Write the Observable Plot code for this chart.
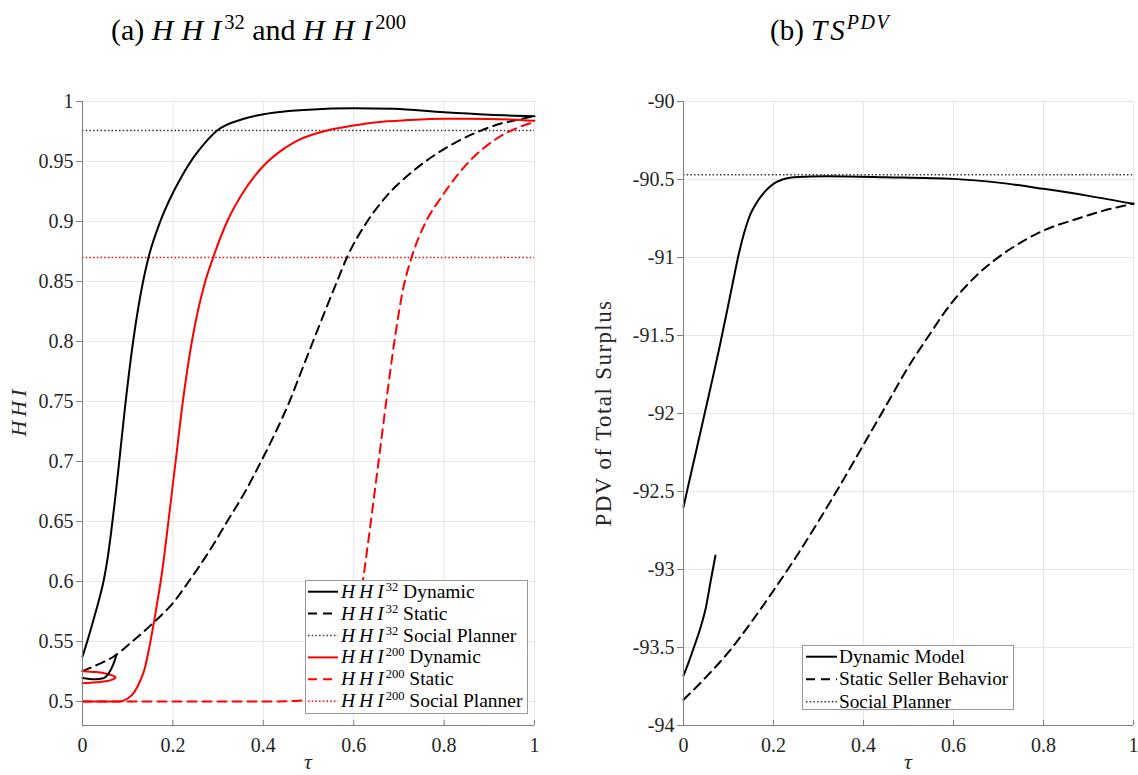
<!DOCTYPE html>
<html>
<head>
<meta charset="utf-8">
<script src="https://cdn.jsdelivr.net/npm/d3@7"></script>
<script src="https://cdn.jsdelivr.net/npm/@observablehq/plot@0.6"></script>
<style>
  html, body { margin: 0; padding: 0; background: #fff; }
  #wrap { position: relative; width: 1138px; height: 775px; overflow: hidden; font-family: "Liberation Serif", serif; }
  .panel { position: absolute; top: 0; height: 775px; }
  .panel svg { display: block; max-width: none; }
  svg text, svg tspan { font-family: "Liberation Serif", serif !important; }
</style>
</head>
<body>
<div id="wrap">
  <div class="panel" id="left" style="left:0px;width:600px"></div>
  <div class="panel" id="right" style="left:600px;width:538px"></div>
  <svg id="overlay" width="1138" height="775" style="position:absolute;left:0;top:0;pointer-events:none;font-family:'Liberation Serif',serif"></svg>
</div>
<script>
// ---------- tick values ----------
const xTicks = [0, 0.2, 0.4, 0.6, 0.8, 1];
const hhiTicks = [0.5, 0.55, 0.6, 0.65, 0.7, 0.75, 0.8, 0.85, 0.9, 0.95, 1];
const tsTicks = [-94, -93.5, -93, -92.5, -92, -91.5, -91, -90.5, -90];
const hhiDomain = [0.48, 1];
const tsDomain = [-94, -90];

// ---------- panel (a): HHI ----------
const hhi32DynTau = [0, 0.012, 0.025, 0.036, 0.047, 0.055, 0.063, 0.071, 0.079, 0.094, 0.112, 0.134, 0.146, 0.172, 0.195, 0.22, 0.246, 0.272, 0.298, 0.357, 0.431, 0.5, 0.6, 0.688, 0.8, 0.9, 1];
const hhi32DynVal = [0.5375, 0.552, 0.569, 0.584, 0.601, 0.618, 0.64, 0.665, 0.692, 0.745, 0.8, 0.85, 0.87, 0.9, 0.92, 0.938, 0.9536, 0.966, 0.9758, 0.9856, 0.9911, 0.9932, 0.9944, 0.994, 0.991, 0.989, 0.9878];

const hhi32DynBranchTau = [0, 0.012, 0.025, 0.037, 0.047, 0.055, 0.062, 0.068, 0.072, 0.075];
const hhi32DynBranchVal = [0.5195, 0.519, 0.5185, 0.5188, 0.5195, 0.522, 0.526, 0.531, 0.535, 0.539];

const hhi32StaticTau = [0, 0.035, 0.069, 0.11, 0.158, 0.2, 0.235, 0.28, 0.32, 0.36, 0.395, 0.428, 0.458, 0.484, 0.51, 0.563, 0.585, 0.63, 0.674, 0.733, 0.807, 0.873, 0.92, 0.962, 1];
const hhi32StaticVal = [0.5253, 0.531, 0.5375, 0.55, 0.566, 0.582, 0.6, 0.625, 0.65, 0.675, 0.7, 0.725, 0.75, 0.775, 0.8, 0.85, 0.87, 0.9, 0.9217, 0.9425, 0.962, 0.9744, 0.981, 0.9847, 0.9878];

const hhi32Planner = 0.9758;

const hhi200DynTau = [0, 0.04, 0.08, 0.1, 0.115, 0.128, 0.138, 0.145, 0.158, 0.166, 0.173, 0.182, 0.19, 0.206, 0.222, 0.242, 0.255, 0.27, 0.29, 0.32, 0.35, 0.397, 0.432, 0.468, 0.541, 0.6, 0.652, 0.72, 0.8, 0.9, 1];
const hhi200DynVal = [0.5, 0.5, 0.5, 0.5025, 0.508, 0.5175, 0.528, 0.54, 0.566, 0.584, 0.6, 0.625, 0.65, 0.7, 0.75, 0.8, 0.825, 0.848, 0.871, 0.9, 0.921, 0.945, 0.957, 0.966, 0.9758, 0.98, 0.9828, 0.9845, 0.9856, 0.9855, 0.984];

const hhi200DynLoopTau = [0, 0.03, 0.055, 0.066, 0.071, 0.073, 0.071, 0.066, 0.055, 0.03, 0];
const hhi200DynLoopVal = [0.5253, 0.5245, 0.523, 0.5218, 0.5208, 0.52, 0.5192, 0.5182, 0.517, 0.516, 0.5153];

const hhi200StaticTau = [0, 0.1, 0.2, 0.3, 0.4, 0.47, 0.52, 0.55, 0.575, 0.597, 0.62, 0.638, 0.655, 0.672, 0.69, 0.71, 0.728, 0.76, 0.7925, 0.858, 0.91, 0.962, 1];
const hhi200StaticVal = [0.5, 0.5, 0.5, 0.5, 0.5, 0.5005, 0.503, 0.51, 0.525, 0.55, 0.6, 0.65, 0.7, 0.75, 0.8, 0.845, 0.87, 0.9, 0.9195, 0.951, 0.9675, 0.978, 0.983];

const hhi200Planner = 0.87;

// ---------- panel (b): PDV of total surplus ----------
const tsDynTau = [0, 0.01, 0.025, 0.04, 0.06, 0.08, 0.097, 0.11, 0.123, 0.136, 0.149, 0.16, 0.171, 0.185, 0.2, 0.22, 0.245, 0.319, 0.45, 0.6, 0.7, 0.8, 0.9, 1];
const tsDynVal = [-92.6, -92.47, -92.28, -92.09, -91.835, -91.575, -91.34, -91.155, -90.976, -90.83, -90.72, -90.66, -90.613, -90.565, -90.528, -90.5, -90.485, -90.479, -90.485, -90.496, -90.52, -90.56, -90.605, -90.656];

const tsDynBranchTau = [0, 0.012, 0.023, 0.038, 0.05, 0.06, 0.071];
const tsDynBranchVal = [-93.68, -93.59, -93.5, -93.37, -93.24, -93.08, -92.91];

const tsStaticTau = [0, 0.05, 0.1, 0.15, 0.2, 0.25, 0.3, 0.35, 0.4, 0.45, 0.5, 0.55, 0.578, 0.615, 0.653, 0.69, 0.727, 0.8, 0.875, 0.949, 1];
const tsStaticVal = [-93.835, -93.69, -93.53, -93.34, -93.135, -92.92, -92.69, -92.45, -92.2, -91.95, -91.7, -91.48, -91.36, -91.225, -91.11, -91.02, -90.944, -90.827, -90.752, -90.688, -90.656];

const tsPlanner = -90.47;

// ---------- helpers ----------
const rows = (ts, vs) => ts.map((t, i) => ({tau: t, v: vs[i]}));
const fmt = d => String(Math.round(d * 100) / 100);
const BLACK = "#000000", RED = "#ff0000", AXIS = "#808080", GRID = "#e6e6e6", DOT = "#333333";
const DASH = "9,6", DOTS = "1.5,2.2";
const FONT = "'Liberation Serif', serif";

function frame(yTicks) {
  return [
    Plot.gridX(xTicks, {stroke: GRID, strokeOpacity: 1}),
    Plot.gridY(yTicks, {stroke: GRID, strokeOpacity: 1}),
  ];
}
function axes(yTicks, yDomain) {
  return [
    Plot.ruleX([0], {stroke: AXIS, strokeWidth: 1}),
    Plot.ruleY([yDomain[0]], {stroke: AXIS, strokeWidth: 1}),
    Plot.ruleX(xTicks, {y1: yDomain[0], y2: yDomain[0], insetTop: -5, stroke: AXIS}),
    Plot.axisY(yTicks, {tickSize: 6, tickPadding: 3, tickFormat: fmt, stroke: AXIS, fill: "#262626", fontSize: 20, fontFamily: FONT, label: null}),
    Plot.axisX(xTicks, {tickSize: 0, tickPadding: 12, tickFormat: fmt, fill: "#262626", fontSize: 20, fontFamily: FONT, label: null})
  ];
}
const smooth = "monotone-x";
const style = {fontFamily: FONT, background: "transparent", overflow: "visible", maxWidth: "none"};

const left = Plot.plot({
  width: 600, height: 775,
  marginLeft: 82, marginRight: 66, marginTop: 101, marginBottom: 50,
  style,
  x: {domain: [0, 1]},
  y: {domain: hhiDomain},
  marks: [
    ...frame(hhiTicks),
    Plot.ruleY([hhi32Planner], {stroke: DOT, strokeWidth: 1.6, strokeDasharray: DOTS}),
    Plot.ruleY([hhi200Planner], {stroke: RED, strokeWidth: 1.6, strokeDasharray: DOTS}),
    Plot.line(rows(hhi32StaticTau, hhi32StaticVal), {x: "tau", y: "v", stroke: BLACK, strokeWidth: 2, strokeDasharray: DASH, curve: smooth}),
    Plot.line(rows(hhi200StaticTau, hhi200StaticVal), {x: "tau", y: "v", stroke: RED, strokeWidth: 2, strokeDasharray: DASH, curve: smooth}),
    Plot.line(rows(hhi200DynTau, hhi200DynVal), {x: "tau", y: "v", stroke: RED, strokeWidth: 2, curve: smooth}),
    Plot.line(rows(hhi200DynLoopTau, hhi200DynLoopVal), {x: "tau", y: "v", stroke: RED, strokeWidth: 2, curve: "catmull-rom"}),
    Plot.line(rows(hhi32DynTau, hhi32DynVal), {x: "tau", y: "v", stroke: BLACK, strokeWidth: 2, curve: smooth}),
    Plot.line(rows(hhi32DynBranchTau, hhi32DynBranchVal), {x: "tau", y: "v", stroke: BLACK, strokeWidth: 2, curve: smooth}),
    ...axes(hhiTicks, hhiDomain)
  ]
});
document.getElementById("left").appendChild(left);

const right = Plot.plot({
  width: 538, height: 775,
  marginLeft: 83, marginRight: 5, marginTop: 101, marginBottom: 50,
  style,
  x: {domain: [0, 1]},
  y: {domain: tsDomain},
  marks: [
    ...frame(tsTicks),
    Plot.ruleY([tsPlanner], {stroke: DOT, strokeWidth: 1.6, strokeDasharray: DOTS}),
    Plot.line(rows(tsStaticTau, tsStaticVal), {x: "tau", y: "v", stroke: BLACK, strokeWidth: 2, strokeDasharray: DASH, curve: smooth}),
    Plot.line(rows(tsDynTau, tsDynVal), {x: "tau", y: "v", stroke: BLACK, strokeWidth: 2, curve: smooth}),
    Plot.line(rows(tsDynBranchTau, tsDynBranchVal), {x: "tau", y: "v", stroke: BLACK, strokeWidth: 2, curve: smooth}),
    ...axes(tsTicks, tsDomain)
  ]
});
document.getElementById("right").appendChild(right);

// ---------- titles, labels, legends (overlay) ----------
const ov = d3.select("#overlay");
const TFS = 30;
function italicSpaced(sel, str, gap) {
  [...str].forEach((ch, i) => {
    const s = sel.append("tspan").attr("font-style", "italic").text(ch);
    if (i > 0) s.attr("dx", gap);
  });
}
// title (a)
{
  const t = ov.append("text").attr("x", 111).attr("y", 40).attr("font-size", TFS).attr("fill", "#000");
  t.append("tspan").text("(a) ");
  italicSpaced(t, "HHI", 8);
  t.append("tspan").attr("font-size", 20.5).attr("dx", 3).attr("dy", -11).text("32");
  t.append("tspan").attr("dy", 11).text(" and ");
  italicSpaced(t, "HHI", 8);
  t.append("tspan").attr("font-size", 20.5).attr("dx", 3).attr("dy", -11).text("200");
}
// title (b)
{
  const t = ov.append("text").attr("x", 770).attr("y", 40).attr("font-size", 29).attr("fill", "#000");
  t.append("tspan").text("(b) ");
  italicSpaced(t, "TS", 3);
  const s = t.append("tspan").attr("font-size", 20).attr("dx", 2).attr("dy", -11);
  italicSpaced(s, "PDV", 1.5);
}
// y labels
{
  const t = ov.append("text").attr("transform", "translate(26,413) rotate(-90)").attr("text-anchor", "middle")
    .attr("font-size", 22).attr("fill", "#262626");
  italicSpaced(t, "HHI", 4);
}
ov.append("text").attr("transform", "translate(611,413) rotate(-90)").attr("text-anchor", "middle")
  .attr("font-size", 23).attr("letter-spacing", 1.4).attr("fill", "#262626").text("PDV of Total Surplus");
// x labels
ov.append("text").attr("x", 308).attr("y", 769).attr("text-anchor", "middle").attr("font-size", 22).attr("font-style", "italic").attr("fill", "#262626").text("τ");
ov.append("text").attr("x", 908).attr("y", 769).attr("text-anchor", "middle").attr("font-size", 22).attr("font-style", "italic").attr("fill", "#262626").text("τ");

// legend (a)
const legA = [
  {sup: "32", name: "Dynamic", stroke: BLACK, dash: null, w: 2},
  {sup: "32", name: "Static", stroke: BLACK, dash: DASH, w: 2},
  {sup: "32", name: "Social Planner", stroke: DOT, dash: DOTS, w: 1.6},
  {sup: "200", name: "Dynamic", stroke: RED, dash: null, w: 2},
  {sup: "200", name: "Static", stroke: RED, dash: DASH, w: 2},
  {sup: "200", name: "Social Planner", stroke: RED, dash: DOTS, w: 1.6}
];
ov.append("rect").attr("x", 305.5).attr("y", 580.5).attr("width", 222).attr("height", 133).attr("fill", "#fff").attr("stroke", "#999");
legA.forEach((d, i) => {
  const y = 591.7 + i * 21.9;
  ov.append("line").attr("x1", 308).attr("x2", 338).attr("y1", y).attr("y2", y).attr("stroke", d.stroke).attr("stroke-width", d.w).attr("stroke-dasharray", d.dash);
  const t = ov.append("text").attr("x", 341).attr("y", y + 6).attr("font-size", 19.5).attr("fill", "#000");
  italicSpaced(t, "HHI", 4);
  t.append("tspan").attr("font-size", 12.5).attr("dx", 2).attr("dy", -7).text(d.sup);
  t.append("tspan").attr("dy", 7).text(" " + d.name);
});
// legend (b)
const legB = [
  {name: "Dynamic Model", stroke: BLACK, dash: null, w: 2},
  {name: "Static Seller Behavior", stroke: BLACK, dash: DASH, w: 2},
  {name: "Social Planner", stroke: DOT, dash: DOTS, w: 1.6}
];
ov.append("rect").attr("x", 802.5).attr("y", 645.5).attr("width", 211).attr("height", 64).attr("fill", "#fff").attr("stroke", "#999");
legB.forEach((d, i) => {
  const y = 656.7 + i * 22.5;
  ov.append("line").attr("x1", 806).attr("x2", 837).attr("y1", y).attr("y2", y).attr("stroke", d.stroke).attr("stroke-width", d.w).attr("stroke-dasharray", d.dash);
  ov.append("text").attr("x", 839).attr("y", y + 6).attr("font-size", 19.3).attr("fill", "#000").text(d.name);
});

d3.selectAll("svg text, svg tspan").style("font-family", "'Liberation Serif', serif");
</script>
</body>
</html>
